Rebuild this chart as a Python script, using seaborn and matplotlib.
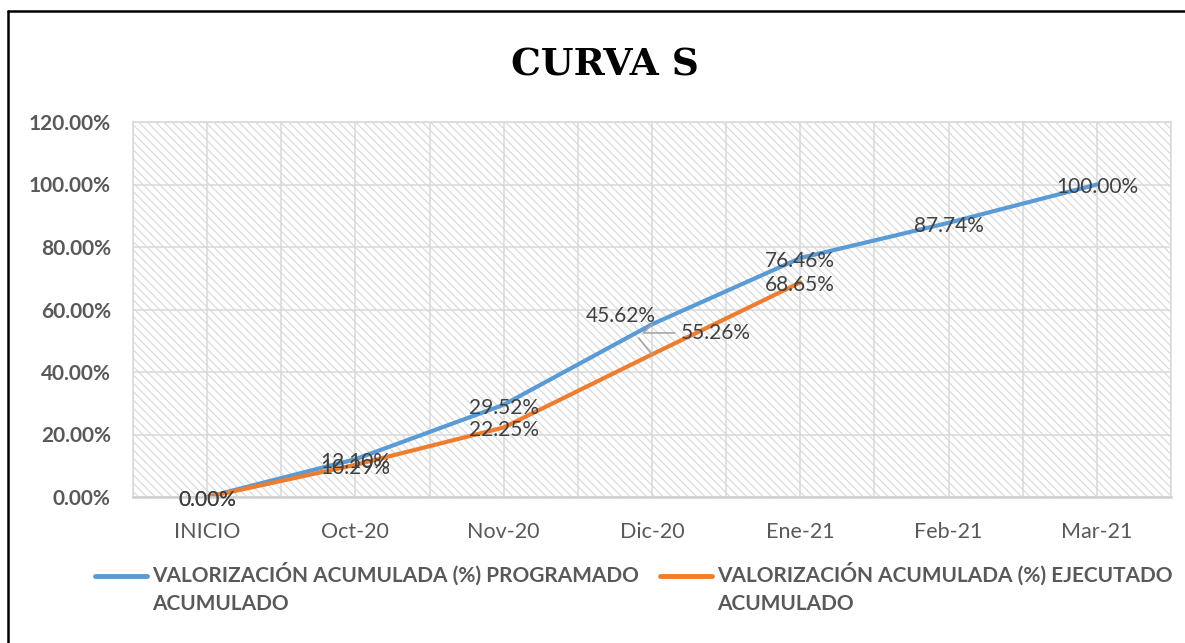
import matplotlib
matplotlib.use("Agg")
import matplotlib.pyplot as plt
import seaborn as sns
import pandas as pd
from matplotlib.lines import Line2D
from matplotlib.ticker import FuncFormatter

# ---- data ----
categories = ["INICIO", "Oct-20", "Nov-20", "Dic-20", "Ene-21", "Feb-21", "Mar-21"]
programado = [0.00, 12.10, 29.52, 55.26, 76.46, 87.74, 100.00]
ejecutado = [0.00, 10.29, 22.25, 45.62, 68.65]
serie_prog = "VALORIZACIÓN ACUMULADA (%) PROGRAMADO\nACUMULADO"
serie_ejec = "VALORIZACIÓN ACUMULADA (%) EJECUTADO\nACUMULADO"
title = "CURVA S"
yticks = [0, 20, 40, 60, 80, 100, 120]

BLUE = "#5B9BD5"
ORANGE = "#ED7D31"
TXT = "#595959"
LBL = "#404040"
GRID = "#D9D9D9"

sns.set_style("white")
plt.rcParams["font.family"] = ["Lato", "DejaVu Sans"]
plt.rcParams["hatch.color"] = "#D8D8D8"
plt.rcParams["hatch.linewidth"] = 0.8

df = pd.concat([
    pd.DataFrame({"cat": categories, "val": programado, "serie": serie_prog}),
    pd.DataFrame({"cat": categories[:len(ejecutado)], "val": ejecutado, "serie": serie_ejec}),
])
df["x"] = df["cat"].map({c: i for i, c in enumerate(categories)})

fig = plt.figure(figsize=(11.85, 6.43), dpi=100)
ax = fig.add_axes([133 / 1185, 146 / 643, 1038 / 1185, 375 / 643])

# hatched plot area
ax.patch.set_facecolor("white")
ax.patch.set_hatch("\\\\\\\\")
ax.patch.set_edgecolor("#D8D8D8")

sns.lineplot(data=df, x="x", y="val", hue="serie", sort=False,
             palette=[BLUE, ORANGE], linewidth=3.0, ax=ax, legend=True,
             solid_capstyle="round")

ax.set_xlim(-0.5, len(categories) - 0.5)
ax.set_ylim(0, 120)
ax.set_xticks(range(len(categories)))
ax.set_xticklabels(categories)
ax.set_xticks([i - 0.5 for i in range(len(categories) + 1)], minor=True)
ax.set_yticks(yticks)
ax.yaxis.set_major_formatter(FuncFormatter(lambda v, p: f"{v:.2f}%"))
ax.grid(True, which="both", color=GRID, linewidth=1.1)
ax.set_axisbelow(True)
ax.tick_params(axis="both", which="both", length=0)
ax.tick_params(axis="x", labelsize=15.5, colors=TXT, pad=18)
ax.tick_params(axis="y", labelsize=15, colors=TXT, pad=16)
for lab in ax.get_yticklabels():
    lab.set_fontweight("bold")
ax.set_xlabel("")
ax.set_ylabel("")
for s in ax.spines.values():
    s.set_color(GRID)
    s.set_linewidth(1.1)
ax.spines["bottom"].set_color("#D0D0D0")
ax.spines["bottom"].set_linewidth(1.8)

# data labels (centered on the points, slightly below as in the reference)
LS = 15
for series in (programado, ejecutado):
    for i, v in enumerate(series):
        if categories[i] == "Dic-20":
            continue
        ax.annotate(f"{v:.2f}%", xy=(i, v), xytext=(0, -2), textcoords="offset points",
                    ha="center", va="center", fontsize=LS, color=LBL, zorder=5)
idx = categories.index("Dic-20")
ax.annotate(f"{ejecutado[idx]:.2f}%", xy=(idx, ejecutado[idx]), xytext=(idx - 0.21, 57.9),
            ha="center", va="center", fontsize=LS, color=LBL, zorder=5,
            arrowprops=dict(arrowstyle="-", color="#A6A6A6", lw=1.2, shrinkA=8, shrinkB=0))
ax.annotate(f"{programado[idx]:.2f}%", xy=(idx, programado[idx]), xytext=(idx + 0.43, 52.5),
            ha="center", va="center", fontsize=LS, color=LBL, zorder=5,
            arrowprops=dict(arrowstyle="-", color="#A6A6A6", lw=1.2, shrinkA=2, shrinkB=0,
                            connectionstyle="angle,angleA=0,angleB=45,rad=0"))

# legend
handles, labels = ax.get_legend_handles_labels()
ax.get_legend().remove()
leg = fig.legend(handles, labels, loc="center", bbox_to_anchor=(0.535, 0.085), ncol=2,
                 frameon=False, handlelength=2.5, handletextpad=0.25, columnspacing=1.0,
                 prop={"size": 15, "weight": "bold"}, labelspacing=0.2)
for t in leg.get_texts():
    t.set_color(TXT)
    t.set_linespacing(1.55)
for h in leg.legend_handles:
    h.set_linewidth(3.5)
    y = h.get_ydata()
    h.set_ydata([v + 9.5 for v in y])

# title
fig.text(605 / 1185, 1 - 65 / 643, title, ha="center", va="center", fontsize=27,
         fontweight="bold", family=["DejaVu Serif"], color="black")

# outer frame (left and top)
fig.add_artist(Line2D([8 / 1185, 8 / 1185], [0, 1 - 11 / 643], transform=fig.transFigure,
                      color="black", linewidth=1.8))
fig.add_artist(Line2D([8 / 1185, 1], [1 - 11 / 643, 1 - 11 / 643], transform=fig.transFigure,
                      color="black", linewidth=1.8))

fig.savefig("out.png", dpi=100, facecolor="white")
